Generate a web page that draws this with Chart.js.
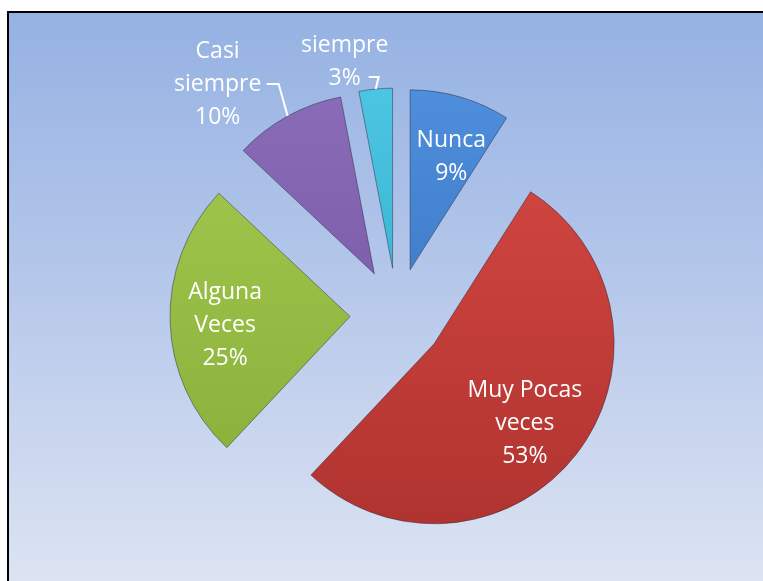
<!DOCTYPE html>
<html>
<head>
<meta charset="utf-8">
<script src="https://cdn.jsdelivr.net/npm/chart.js@4/dist/chart.umd.min.js"></script>
<style>
  html, body { margin: 0; padding: 0; background: #ffffff; overflow: hidden; }
  #frame {
    position: absolute; left: 7px; top: 11px; width: 770px; height: 590px;
    border-left: 2px solid #000; border-top: 2px solid #000;
    background: linear-gradient(to bottom, #95b2e3 0%, #b5c7ea 45%, #dfe6f3 100%);
  }
  #wrap { position: absolute; left: 0; top: 0; width: 763px; height: 581px; }
</style>
</head>
<body>
<div id="frame"></div>
<div id="wrap"><canvas id="c" width="763" height="581"></canvas></div>
<script>
// ---- data ----
const categories = ["Nunca", "Muy Pocas veces", "Alguna Veces", "Casi siempre", "siempre"];
const values = [9, 53, 25, 10, 3];
const labelLines = [
  ["Nunca"],
  ["Muy Pocas", "veces"],
  ["Alguna", "Veces"],
  ["Casi", "siempre"],
  ["siempre"]
];
const colorsTop = ["#4f8fdc", "#d94a45", "#a6cb52", "#8a6cb8", "#4cc6e2"];
const colorsBottom = ["#2f69b8", "#b0332f", "#86ad37", "#6e4f9c", "#2ba2c6"];

// ---- styling / layout ----
const EXPLODE = 47;
const RADIUS = 180;
const FONT = '23px "Open Sans", "Liberation Sans", sans-serif';
const LINE_H = 33;
const BASE_DY = 5;
// label placement: inside labels along mid angle; outside ones with leader lines
const labelStyle = [
  {inside: true, frac: 0.68, dx: 7, dy: 0},
  {inside: true, frac: 0.68, dx: -6, dy: 0},
  {inside: true, frac: 0.70, dx: 1, dy: 0},
  {inside: false, elbow: [-9, -32], tail: -12, text: [-61, -38]},
  {inside: false, elbow: [3, -12], tail: -10, text: [-34, -37]}
];

function sliceGradient(ctx, i) {
  const g = ctx.createLinearGradient(0, 80, 0, 530);
  g.addColorStop(0, colorsTop[i]);
  g.addColorStop(1, colorsBottom[i]);
  return g;
}

const explodePlugin = {
  id: 'explode',
  afterDatasetUpdate(chart, args) {
    const meta = args.meta;
    const ca = chart.chartArea;
    const cx = (ca.left + ca.right) / 2, cy = (ca.top + ca.bottom) / 2;
    meta.data.forEach(el => {
      const mid = (el.startAngle + el.endAngle) / 2;
      el.x = cx + Math.cos(mid) * EXPLODE;
      el.y = cy + Math.sin(mid) * EXPLODE;
    });
  },
  afterDatasetsDraw(chart) {
    const ctx = chart.ctx;
    const meta = chart.getDatasetMeta(0);
    const total = values.reduce((a, b) => a + b, 0);
    ctx.save();
    ctx.font = FONT;
    ctx.fillStyle = '#ffffff';
    ctx.strokeStyle = '#ffffff';
    ctx.textAlign = 'center';
    ctx.textBaseline = 'middle';
    meta.data.forEach((el, i) => {
      const mid = (el.startAngle + el.endAngle) / 2;
      const lines = labelLines[i].concat([Math.round(values[i] / total * 100) + '%']);
      const st = labelStyle[i];
      let lx, ly;
      if (st.inside) {
        lx = el.x + Math.cos(mid) * el.outerRadius * st.frac + st.dx;
        ly = el.y + Math.sin(mid) * el.outerRadius * st.frac + st.dy + BASE_DY;
        const y0 = ly - (lines.length - 1) * LINE_H / 2;
        lines.forEach((t, k) => ctx.fillText(t, lx, y0 + k * LINE_H));
      } else {
        const ox = el.x + Math.cos(mid) * el.outerRadius;
        const oy = el.y + Math.sin(mid) * el.outerRadius;
        const ex = ox + st.elbow[0], ey = oy + st.elbow[1];
        ctx.lineWidth = 2;
        ctx.beginPath();
        ctx.moveTo(ox, oy);
        ctx.lineTo(ex, ey);
        ctx.lineTo(ex + st.tail, ey);
        ctx.stroke();
        lx = ex + st.text[0];
        const yTop = ey + st.text[1] + BASE_DY;
        lines.forEach((t, k) => ctx.fillText(t, lx, yTop + k * LINE_H));
      }
    });
    ctx.restore();
  }
};

new Chart(document.getElementById('c'), {
  type: 'pie',
  data: {
    labels: categories,
    datasets: [{
      data: values,
      backgroundColor: c => sliceGradient(c.chart.ctx, c.dataIndex),
      borderColor: 'rgba(30,30,50,0.45)',
      borderWidth: 1,
      radius: RADIUS
    }]
  },
  options: {
    responsive: false,
    animation: false,
    events: [],
    layout: { padding: { left: 40, right: 9, top: 60, bottom: 11 } },
    plugins: { legend: { display: false }, tooltip: { enabled: false } }
  },
  plugins: [explodePlugin]
});
</script>
</body>
</html>
